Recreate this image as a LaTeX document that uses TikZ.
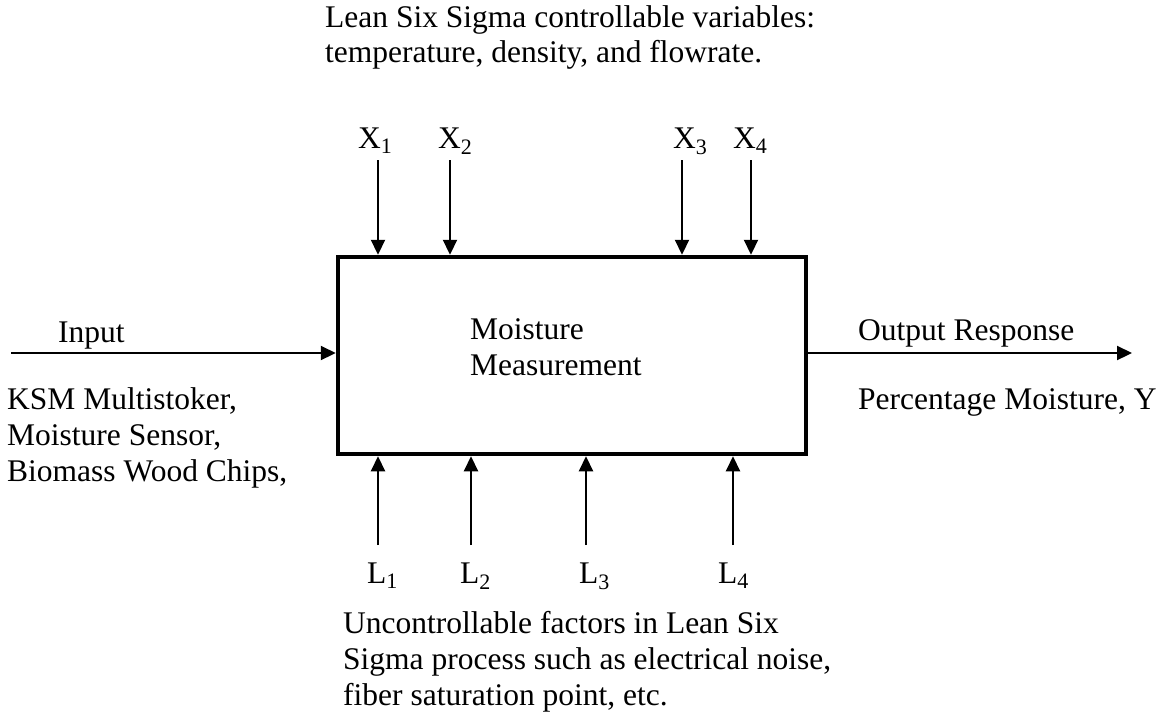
\documentclass[tikz,border=0pt]{standalone}
\usepackage{fontspec}
\setmainfont{Liberation Serif}
\usetikzlibrary{arrows.meta}
\begin{document}
\begin{tikzpicture}[x=1pt,y=-1pt,
  txt/.style={anchor=base west,inner sep=0pt,font=\fontsize{31.5}{36}\selectfont},
  lbl/.style={anchor=base west,inner sep=0pt,font=\fontsize{31.5}{36}\selectfont},
  arr/.style={line width=2.2pt,-{Triangle[length=15pt,width=14pt]}},
  blk/.style={draw,line width=4.5pt,minimum width=468pt,minimum height=197pt,inner sep=0pt}]
\useasboundingbox (0,0) rectangle (1160,716);
% box
\node[blk] (box) at (572,355.5) {};
% top text
\node[txt] (t1) at (325,27) {Lean Six Sigma controllable variables:};
\node[txt] (t2) at (325,62) {temperature, density, and flowrate.};
% X labels
\node[lbl] (X1) at (358,148) {X\textsubscript{1}};
\node[lbl] (X2) at (438,148) {X\textsubscript{2}};
\node[lbl] (X3) at (673,148) {X\textsubscript{3}};
\node[lbl] (X4) at (733,148) {X\textsubscript{4}};
\coordinate (xs1) at (378,160);
\coordinate (xs2) at (450,160);
\coordinate (xs3) at (682,160);
\coordinate (xs4) at (751,160);
\foreach \i in {1,2,3,4}{\draw[arr] (xs\i) -- (xs\i |- box.north);}
% L labels
\node[lbl] (L1) at (367,583) {L\textsubscript{1}};
\node[lbl] (L2) at (460,583) {L\textsubscript{2}};
\node[lbl] (L3) at (579,583) {L\textsubscript{3}};
\node[lbl] (L4) at (718,583) {L\textsubscript{4}};
\coordinate (ls1) at (378,545);
\coordinate (ls2) at (471,545);
\coordinate (ls3) at (586,545);
\coordinate (ls4) at (733,545);
\foreach \i in {1,2,3,4}{\draw[arr] (ls\i) -- (ls\i |- box.south);}
% bottom text
\node[txt] (b1) at (343,633) {Uncontrollable factors in Lean Six};
\node[txt] (b2) at (343,669) {Sigma process such as electrical noise,};
\node[txt] (b3) at (343,705) {fiber saturation point, etc.};
% box text
\node[txt] (m1) at (470,339) {Moisture};
\node[txt] (m2) at (470,375) {Measurement};
% input
\node[txt] (in) at (58,342) {Input};
\coordinate (ins) at (11,353);
\draw[arr] (ins) -- (ins -| box.west);
\node[txt] (k1) at (7,409) {KSM Multistoker,};
\node[txt] (k2) at (7,445) {Moisture Sensor,};
\node[txt] (k3) at (7,481) {Biomass Wood Chips,};
% output
\node[txt] (out) at (858,340) {Output Response};
\coordinate (oute) at (1132,353);
\draw[arr] (box.east |- oute) -- (oute);
\node[txt] (pm) at (858,409) {Percentage Moisture, Y};
\end{tikzpicture}
\end{document}
